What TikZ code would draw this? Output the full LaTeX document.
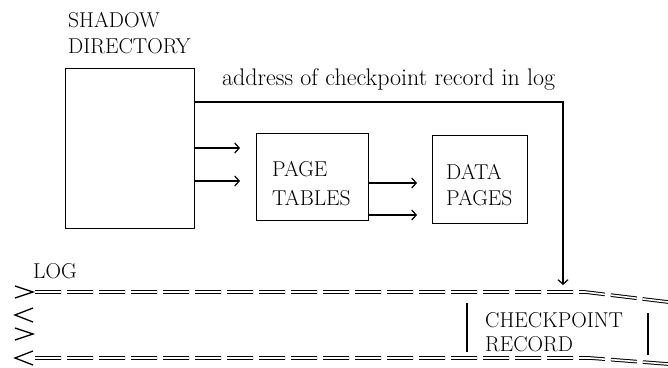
\documentclass[tikz,border=0pt]{standalone}
\usetikzlibrary{arrows.meta,calc}
\begin{document}
\begin{tikzpicture}[x=1pt,y=-1pt,
  every node/.style={font=\fontsize{21.5}{26}\selectfont, inner sep=0pt},
  box/.style={draw, line width=1.3pt},
  lbl/.style={anchor=west, align=left},
  arr/.style={line width=1.2pt, -{Straight Barb[length=4.5pt,width=10pt,line width=1.2pt]}},
  logline/.style={line width=1pt, double, double distance=1.6pt, dash pattern=on 26pt off 6pt},
  chev/.style={line width=1.3pt},
  bar/.style={line width=1.3pt}]
\useasboundingbox (0,0) rectangle (668,367);

% boxes
\node[box, minimum width=129pt, minimum height=160pt, anchor=north west] (sd) at (65,68) {};
\node[box, minimum width=112pt, minimum height=87pt, anchor=north west] (pt) at (256,133) {};
\node[box, minimum width=95pt, minimum height=88pt, anchor=north west] (dp) at (432,135) {};

% labels
\node[anchor=north west, align=left] (sdl) at (68,12) {SHADOW\\DIRECTORY};
\node[anchor=base west, font=\fontsize{24}{28}\selectfont] (addr) at (222,85) {address of checkpoint record in log};
\node[lbl, font=\fontsize{21.5}{28.5}\selectfont] (ptl) at (272,183.5) {PAGE\\TABLES};
\node[lbl] (dpl) at (446,185.5) {DATA\\PAGES};
\node[anchor=west] (logl) at (33,271) {LOG};
\node[lbl, font=\fontsize{21.5}{24}\selectfont] (cp) at (485,332.5) {CHECKPOINT\\RECORD};

% log lines
\coordinate (lt0) at (35,292);
\coordinate (lt1) at (585,292);
\coordinate (lt2) at (668,302);
\coordinate (lb0) at (35,358);
\coordinate (lb1) at (590,358);
\coordinate (lb2) at (668,364);
\draw[logline] (lt0) -- (lt1) -- (lt2);
\draw[logline] (lb0) -- (lb1) -- (lb2);

% chevrons
\draw[chev] (15,286) -- (33,292) -- (15,298);
\draw[chev] (33,308) -- (15,315) -- (33,322);
\draw[chev] (15,328) -- (33,334) -- (15,340);
\draw[chev] (33,351) -- (15,358) -- (33,365);

% checkpoint record bars
\coordinate (b1t) at (467,303);
\coordinate (b1b) at (467,352);
\coordinate (b2t) at (648,313);
\coordinate (b2b) at (648,355);
\draw[bar] (b1t) -- (b1b);
\draw[bar] (b2t) -- (b2b);

% connectors
\coordinate (turn) at (563,102);
\coordinate (login) at (563,292);
\draw[arr, shorten >=7pt] (sd.east |- turn) -- (turn) -- (login);
\draw[arr, shorten >=16pt] (sd.east |- 0,148) -- (pt.west |- 0,148);
\draw[arr, shorten >=16pt] (sd.east |- 0,181) -- (pt.west |- 0,181);
\draw[arr, shorten >=15pt] (pt.east |- 0,183) -- (dp.west |- 0,183);
\draw[arr, shorten >=15pt] (pt.east |- 0,215) -- (dp.west |- 0,215);
\end{tikzpicture}
\end{document}
